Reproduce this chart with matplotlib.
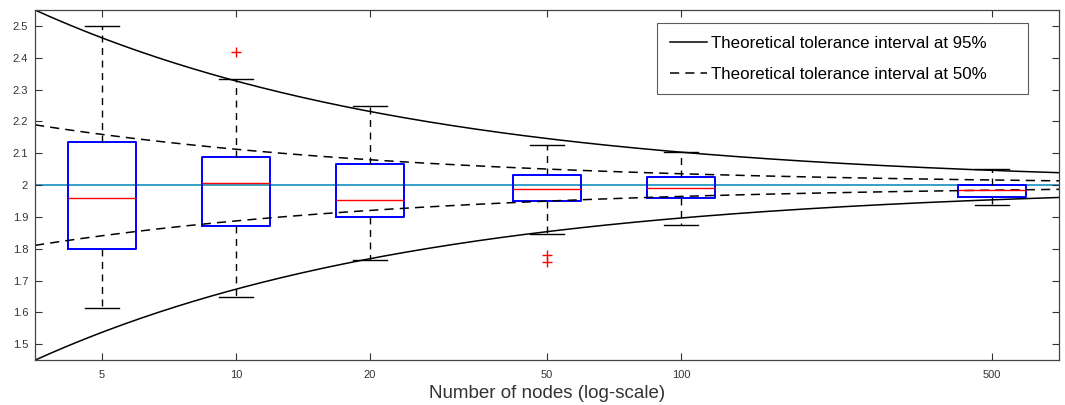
import numpy as np
import matplotlib
matplotlib.use("Agg")
import matplotlib.pyplot as plt

plt.rcParams['font.family'] = ['Liberation Sans', 'DejaVu Sans']

# box statistics per network size
nodes = [5, 10, 20, 50, 100, 500]
whis_lo = [1.614, 1.649, 1.764, 1.845, 1.876, 1.937]
q1 = [1.800, 1.870, 1.899, 1.950, 1.958, 1.962]
median = [1.959, 2.006, 1.952, 1.989, 1.990, 1.985]
q3 = [2.136, 2.089, 2.066, 2.033, 2.024, 2.000]
whis_hi = [2.500, 2.332, 2.248, 2.127, 2.105, 2.051]
outliers = [[], [2.418], [], [1.779, 1.757], [], []]

# theoretical tolerance intervals: true value +/- z * sigma / sqrt(n)
true_value = 2.0
sigma = 0.528
z95 = 1.96
z50 = 0.6745

x_min, x_max = 5 / np.sqrt(2), 500 * np.sqrt(2)

fig = plt.figure(figsize=(10.65, 4.05), dpi=100)
ax = fig.add_axes([0.0329, 0.111, 0.9615, 0.864])
ax.set_xscale('log')

stats = []
for i, n in enumerate(nodes):
    stats.append(dict(med=median[i], q1=q1[i], q3=q3[i], whislo=whis_lo[i],
                      whishi=whis_hi[i], fliers=outliers[i], label=str(n)))

# box width constant in log-space
w = 0.153
ax.bxp(stats, positions=nodes, widths=[0.5] * len(nodes), manage_ticks=False,
       boxprops=dict(color='#0000ff', lw=1.4),
       medianprops=dict(color='#ff0000', lw=1.0),
       whiskerprops=dict(color='black', ls=(0, (5, 4)), lw=1.0),
       capprops=dict(color='black', lw=1.0),
       flierprops=dict(marker='+', markeredgecolor='#ff0000', markersize=7, lw=0))

# fix widths for log-scale: rebuild box, median and cap x-coordinates
for line in ax.lines:
    xs = np.asarray(line.get_xdata(), dtype=float)
    if xs.size == 0:
        continue
    pos = min(nodes, key=lambda n: abs(np.log10(n) - np.log10(np.mean(xs))))
    span = xs.max() - xs.min()
    if span == 0:
        continue
    frac = 1.0 if span > 0.4 else 0.5
    lo = pos * 10 ** (-w / 2 * frac)
    hi = pos * 10 ** (w / 2 * frac)
    new = np.where(xs < pos, lo, np.where(xs > pos, hi, pos))
    line.set_xdata(new)

n = np.logspace(np.log10(x_min), np.log10(x_max), 300)
ax.plot(n, true_value + z95 * sigma / np.sqrt(n), color='black', lw=1.1,
        label='Theoretical tolerance interval at 95%')
ax.plot(n, true_value + z50 * sigma / np.sqrt(n), color='black', lw=1.1, ls=(0, (6, 4)),
        label='Theoretical tolerance interval at 50%')
ax.plot(n, true_value - z95 * sigma / np.sqrt(n), color='black', lw=1.1)
ax.plot(n, true_value - z50 * sigma / np.sqrt(n), color='black', lw=1.1, ls=(0, (6, 4)))
ax.axhline(true_value, color='#2399c4', lw=1.3, zorder=1)

ax.set_xlim(x_min, x_max)
ax.set_ylim(1.45, 2.55)
ax.set_xticks(nodes)
ax.set_xticklabels([str(v) for v in nodes])
ax.xaxis.set_minor_locator(matplotlib.ticker.NullLocator())
yt = np.round(np.arange(1.5, 2.51, 0.1), 1)
ax.set_yticks(yt)
ax.set_yticklabels(['2' if v == 2.0 else f'{v:.1f}' for v in yt])
ax.tick_params(direction='in', length=5, labelsize=8, colors='#333333',
               top=True, right=True, width=0.8)
ax.tick_params(axis='x', pad=7)
ax.tick_params(axis='y', pad=5)
for s in ax.spines.values():
    s.set_color('#444444')
    s.set_linewidth(0.9)
ax.set_xlabel('Number of nodes (log-scale)', fontsize=13.5, color='#333333')
ax.xaxis.label.set_va('center')
ax.xaxis.set_label_coords(0.5, -33 / 350)

leg = ax.legend(loc='upper left', bbox_to_anchor=(0.6074, 0.769, 0.3623, 0.194),
                mode='expand', borderaxespad=0,
                fontsize=12.2, frameon=True, fancybox=False, handlelength=2.2,
                handletextpad=0.25, borderpad=0.75, labelspacing=0.94)
leg.get_frame().set_edgecolor('#333333')
leg.get_frame().set_linewidth(0.8)

fig.savefig('out.png', dpi=100)
